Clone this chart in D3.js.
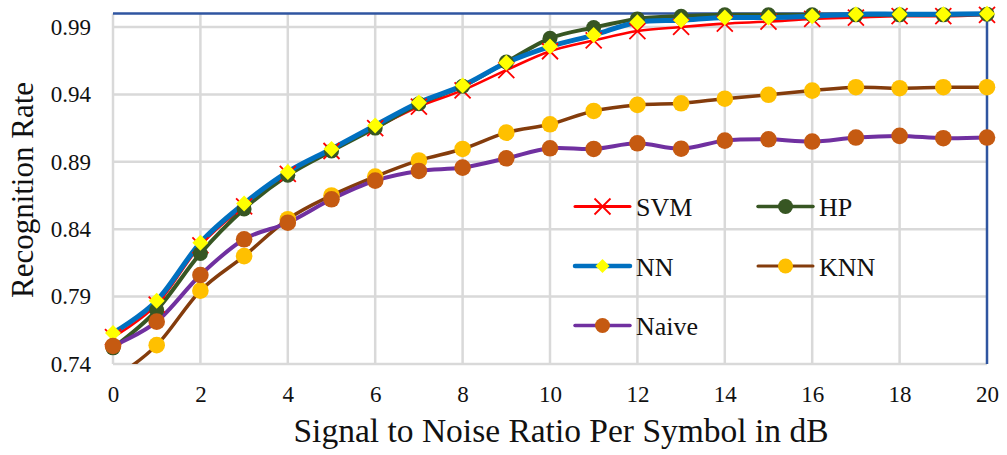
<!DOCTYPE html>
<html>
<head>
<meta charset="utf-8">
<script src="https://cdn.jsdelivr.net/npm/d3@7"></script>
<style>
  html, body { margin: 0; padding: 0; background: #fff; }
  svg { display: block; }
  text { font-family: "Liberation Serif", "Times New Roman", serif; fill: #111; }
</style>
</head>
<body>
<svg id="chart" width="1007" height="455"></svg>
<script>
// Signal-to-noise ratio (dB) on the x axis
const snr = d3.range(0, 21);

// Recognition rate per classifier
const svm   = [0.760, 0.784, 0.828, 0.857, 0.881, 0.898, 0.915, 0.931, 0.943, 0.958, 0.972, 0.980, 0.987, 0.990, 0.9925, 0.994, 0.996, 0.997, 0.998, 0.998, 0.999];
const hp    = [0.752, 0.780, 0.822, 0.855, 0.880, 0.898, 0.915, 0.933, 0.946, 0.964, 0.9816, 0.9896, 0.996, 0.998, 0.999, 0.999, 0.999, 0.999, 0.999, 0.999, 0.9995];
const nn    = [0.763, 0.787, 0.830, 0.859, 0.8825, 0.8995, 0.917, 0.934, 0.9465, 0.9635, 0.9755, 0.984, 0.9935, 0.995, 0.997, 0.997, 0.998, 0.9995, 0.9995, 0.9995, 0.9998];
const knn   = [0.729, 0.754, 0.7944, 0.820, 0.8474, 0.865, 0.879, 0.891, 0.8995, 0.9116, 0.9178, 0.9277, 0.9322, 0.9334, 0.9368, 0.9397, 0.9428, 0.9453, 0.9446, 0.9453, 0.9453];
const naive = [0.7534, 0.7714, 0.806, 0.8325, 0.8448, 0.8622, 0.876, 0.8832, 0.8857, 0.8926, 0.900, 0.8995, 0.9037, 0.8997, 0.9057, 0.9067, 0.905, 0.908, 0.9092, 0.9075, 0.908];

const seriesNames = ["SVM", "HP", "NN", "KNN", "Naive"];
const xTicks = [0, 2, 4, 6, 8, 10, 12, 14, 16, 18, 20];
const yTicks = [0.74, 0.79, 0.84, 0.89, 0.94, 0.99];

const styles = {
  SVM:   { line: "#ff0000", width: 2.6, marker: "cross",   fill: "#ff0000" },
  HP:    { line: "#375623", width: 4,   marker: "circle",  fill: "#375623", r: 7.5 },
  NN:    { line: "#0070c0", width: 5,   marker: "diamond", fill: "#ffff00", r: 8 },
  KNN:   { line: "#843c0c", width: 3.5, marker: "circle",  fill: "#ffc000", r: 8.3 },
  Naive: { line: "#7030a0", width: 4,   marker: "circle",  fill: "#c55a11", r: 8.3 }
};

const seriesData = { SVM: svm, HP: hp, NN: nn, KNN: knn, Naive: naive };

const svg = d3.select("#chart");
const plot = { left: 113, right: 987, top: 13.5, bottom: 364 };

const x = d3.scaleLinear().domain([0, 20]).range([plot.left, plot.right]);
const y = d3.scaleLinear().domain([0.74, 1.0]).range([plot.bottom, plot.top]);

// Gridlines
const grid = svg.append("g").attr("stroke", "#d9d9d9").attr("stroke-width", 2.5);
grid.selectAll("line.h").data(yTicks).join("line")
  .attr("x1", plot.left).attr("x2", plot.right)
  .attr("y1", d => y(d)).attr("y2", d => y(d));
grid.selectAll("line.v").data(xTicks.filter(d => d < 20)).join("line")
  .attr("x1", d => x(d)).attr("x2", d => x(d))
  .attr("y1", plot.top).attr("y2", plot.bottom);

// Top and right frame lines
svg.append("line").attr("x1", plot.left).attr("x2", plot.right + 1)
  .attr("y1", plot.top).attr("y2", plot.top)
  .attr("stroke", "#2f55a0").attr("stroke-width", 2.5);
svg.append("line").attr("x1", plot.right).attr("x2", plot.right)
  .attr("y1", plot.top).attr("y2", plot.bottom)
  .attr("stroke", "#2f55a0").attr("stroke-width", 2.5);

// Axis tick labels
const yAxis = d3.axisLeft(y).tickValues(yTicks).tickFormat(d3.format(".2f")).tickSize(0).tickPadding(0);
svg.append("g").attr("transform", `translate(${plot.left - 22},0)`).call(yAxis)
  .call(g => g.select(".domain").remove())
  .selectAll("text").attr("font-size", 23).attr("fill", "#111")
  .style("font-family", "'Liberation Serif', 'Times New Roman', serif");

const xAxis = d3.axisBottom(x).tickValues(xTicks).tickFormat(d3.format("d")).tickSize(0).tickPadding(0);
svg.append("g").attr("transform", `translate(0,${plot.bottom + 22})`).call(xAxis)
  .call(g => g.select(".domain").remove())
  .selectAll("text").attr("font-size", 23).attr("fill", "#111")
  .style("font-family", "'Liberation Serif', 'Times New Roman', serif");

// Axis titles
svg.append("text").attr("x", 561).attr("y", 442)
  .attr("text-anchor", "middle").attr("font-size", 33.5)
  .text("Signal to Noise Ratio Per Symbol in dB");
svg.append("text").attr("transform", "translate(33,190) rotate(-90)")
  .attr("text-anchor", "middle").attr("font-size", 31)
  .text("Recognition Rate");

// Clip lines to the plotting band (values below the axis are cut off)
svg.append("clipPath").attr("id", "plotClip").append("rect")
  .attr("x", plot.left).attr("y", 0)
  .attr("width", plot.right - plot.left + 2).attr("height", plot.bottom);

const line = d3.line()
  .x((d, i) => x(snr[i]))
  .y(d => y(d))
  .curve(d3.curveCatmullRom.alpha(0));

const linesG = svg.append("g").attr("clip-path", "url(#plotClip)");
seriesNames.forEach(name => {
  const s = styles[name];
  linesG.append("path").datum(seriesData[name])
    .attr("d", line)
    .attr("fill", "none")
    .attr("stroke", s.line)
    .attr("stroke-width", s.width)
    .attr("stroke-linejoin", "round")
    .attr("stroke-linecap", "round");
});

function drawMarker(g, s, cx, cy) {
  if (s.marker === "circle") {
    g.append("circle").attr("cx", cx).attr("cy", cy).attr("r", s.r).attr("fill", s.fill);
  } else if (s.marker === "diamond") {
    const r = s.r;
    g.append("path")
      .attr("d", `M${cx},${cy - r}L${cx + r},${cy}L${cx},${cy + r}L${cx - r},${cy}Z`)
      .attr("fill", s.fill);
  } else if (s.marker === "cross") {
    const r = 8;
    g.append("path")
      .attr("d", `M${cx - r},${cy - r}L${cx + r},${cy + r}M${cx - r},${cy + r}L${cx + r},${cy - r}`)
      .attr("stroke", s.fill).attr("stroke-width", 1.8).attr("fill", "none");
  }
}

const markersG = svg.append("g");
seriesNames.forEach(name => {
  const s = styles[name];
  const g = markersG.append("g");
  seriesData[name].forEach((v, i) => {
    if (v >= 0.74) drawMarker(g, s, x(snr[i]), y(v));
  });
});

// Legend
const legendPos = [
  { lx: 575, ly: 206.5 },
  { lx: 758, ly: 206.5 },
  { lx: 575, ly: 266 },
  { lx: 758, ly: 266 },
  { lx: 575, ly: 325.5 }
];
const legend = svg.append("g");
seriesNames.forEach((name, i) => {
  const s = styles[name];
  const p = legendPos[i];
  const g = legend.append("g");
  g.append("line").attr("x1", p.lx).attr("x2", p.lx + 55)
    .attr("y1", p.ly).attr("y2", p.ly)
    .attr("stroke", s.line).attr("stroke-width", Math.max(3, s.width - 0.5))
    .attr("stroke-linecap", "round");
  drawMarker(g, Object.assign({}, s, { r: s.marker === "diamond" ? 7 : Math.min(s.r, 7.5) }), p.lx + 27.5, p.ly);
  g.append("text").attr("x", p.lx + 61).attr("y", p.ly + 9.5)
    .attr("font-size", 26).text(name);
});
</script>
</body>
</html>
